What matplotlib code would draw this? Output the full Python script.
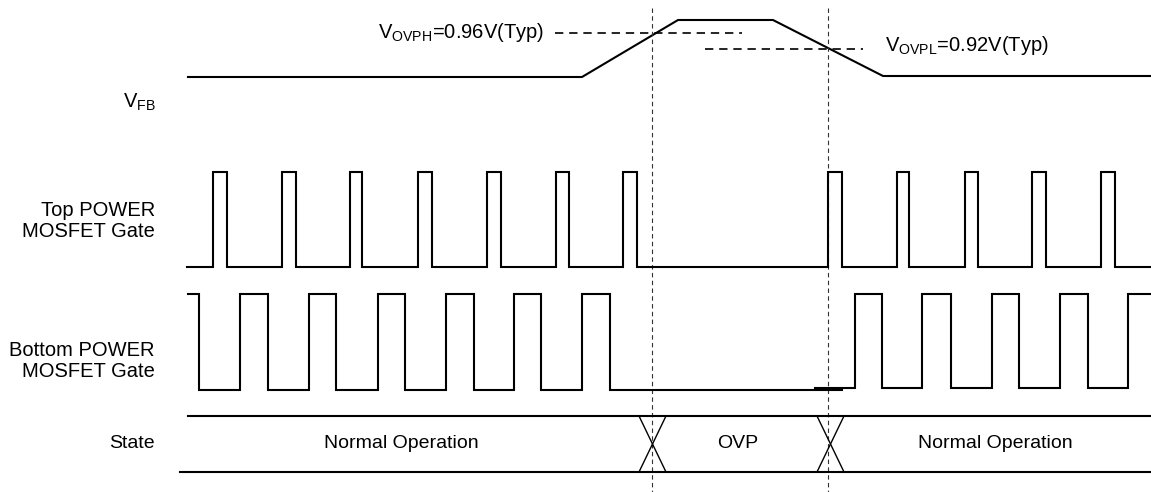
import matplotlib
matplotlib.use("Agg")
import matplotlib.pyplot as plt

plt.rcParams['font.family'] = ['Liberation Sans', 'DejaVu Sans']
plt.rcParams['mathtext.fontset'] = 'custom'
plt.rcParams['mathtext.rm'] = 'Liberation Sans'

# ---- data (diagram coordinates, x = time axis, y = level) ----
vfb_x = [188, 582, 678, 773, 883, 1151]
vfb_y = [77, 77, 20, 20, 76, 76]

top_rise = [213, 282, 350, 418, 487, 556, 623, 828, 897, 965, 1032, 1101]
top_fall = [227, 296, 362, 432, 501, 569, 637, 842, 909, 978, 1046, 1115]
top_hi, top_lo = 172, 267
top_start, top_end = 187, 1151

bot_left_rise = [240, 309, 378, 446, 514, 582]
bot_left_fall = [199, 268, 336, 405, 474, 541, 610]
bot_right_rise = [855, 922, 992, 1060, 1128]
bot_right_fall = [882, 951, 1019, 1088]
bot_hi, bot_lo_left, bot_lo_right = 294, 390, 388
bot_start, bot_left_end, bot_right_start, bot_end = 188, 842, 815, 1151

ovph_level, ovph_span = 33, (555, 742)
ovpl_level, ovpl_span = 48.5, (705, 863)
event_x = [651.7, 828.3]

state_top, state_bot = 416, 472
state_top_start, state_bot_start = 188, 180
state_cross = [(639, 666), (817, 844)]
state_labels = ["Normal Operation", "OVP", "Normal Operation"]
state_label_x = [401, 738, 995]


def square(start, end, rises, falls, hi, lo, start_high):
    edges = sorted([(x, 'r') for x in rises] + [(x, 'f') for x in falls])
    lvl = hi if start_high else lo
    xs, ys = [start], [lvl]
    for x, k in edges:
        xs += [x, x]
        new = hi if k == 'r' else lo
        ys += [lvl, new]
        lvl = new
    xs.append(end)
    ys.append(lvl)
    return xs, ys


fig = plt.figure(figsize=(11.51, 4.92), dpi=100)
ax = fig.add_axes([0, 0, 1, 1])
ax.set_xlim(0, 1151)
ax.set_ylim(492, 0)
ax.axis('off')

lw = 1.5
k = 'black'

# VFB
ax.plot(vfb_x, vfb_y, color=k, lw=lw, solid_joinstyle='miter')

# threshold dashed lines
ax.plot(ovph_span, [ovph_level] * 2, color=k, lw=1.2, linestyle=(0, (5, 3.5)))
ax.plot(ovpl_span, [ovpl_level] * 2, color=k, lw=1.2, linestyle=(0, (5, 3.5)))

# event verticals
for x in event_x:
    ax.plot([x, x], [8, 492], color='#333333', lw=0.8, linestyle=(0, (4, 3)))

# top gate
xs, ys = square(top_start, top_end, top_rise, top_fall, top_hi, top_lo, False)
ax.plot(xs, ys, color=k, lw=lw, solid_joinstyle='miter')

# bottom gate
xs, ys = square(bot_start, bot_left_end, bot_left_rise, bot_left_fall, bot_hi, bot_lo_left, True)
ax.plot(xs, ys, color=k, lw=lw, solid_joinstyle='miter')
xs, ys = square(bot_right_start, bot_end, bot_right_rise, bot_right_fall, bot_hi, bot_lo_right, False)
ax.plot(xs, ys, color=k, lw=lw, solid_joinstyle='miter')

# state row
ax.plot([state_top_start, 1151], [state_top] * 2, color=k, lw=lw)
ax.plot([state_bot_start, 1151], [state_bot] * 2, color=k, lw=lw)
for a, b in state_cross:
    ax.plot([a, b], [state_top, state_bot], color=k, lw=1.0)
    ax.plot([b, a], [state_top, state_bot], color=k, lw=1.0)
state_mid = (state_top + state_bot) / 2
for lab, x in zip(state_labels, state_label_x):
    ax.text(x, state_mid, lab, ha='center', va='center', fontsize=14)

# labels
ax.text(156, 102, r'$\mathregular{V_{FB}}$', ha='right', va='center', fontsize=14.5)
ax.text(155, 221, 'Top POWER\nMOSFET Gate', ha='right', va='center', fontsize=14.5,
        multialignment='right', linespacing=1.1)
ax.text(155, 361, 'Bottom POWER\nMOSFET Gate', ha='right', va='center', fontsize=14.5,
        multialignment='right', linespacing=1.1)
ax.text(155, state_mid, 'State', ha='right', va='center', fontsize=14)

ax.text(378, 33, r'$\mathregular{V_{OVPH}}$=0.96V(Typ)', ha='left', va='center', fontsize=14.5)
ax.text(885, 45.5, r'$\mathregular{V_{OVPL}}$=0.92V(Typ)', ha='left', va='center', fontsize=14.5)

fig.savefig('out.png', dpi=100)
